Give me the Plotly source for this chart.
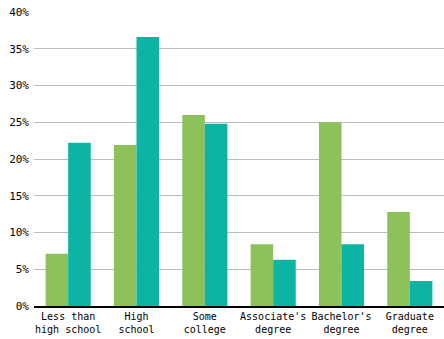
import plotly.graph_objects as go

categories = ["Less than<br>high school", "High<br>school", "Some<br>college",
              "Associate's<br>degree", "Bachelor's<br>degree", "Graduate<br>degree"]
series_a = [7.1, 21.9, 26.0, 8.4, 25.0, 12.8]
series_b = [22.2, 36.6, 24.8, 6.3, 8.4, 3.4]
tick_vals = [0, 5, 10, 15, 20, 25, 30, 35, 40]
tick_text = [f"{v}%" for v in tick_vals]

fig = go.Figure()
fig.add_bar(x=categories, y=series_a, marker_color="#8dc159", marker_line_width=0)
fig.add_bar(x=categories, y=series_b, marker_color="#0bb4a3", marker_line_width=0)

fig.update_layout(
    width=444, height=339,
    margin=dict(l=34, r=0, t=12, b=33),
    paper_bgcolor="white", plot_bgcolor="white",
    barmode="group", bargap=0.34, bargroupgap=0,
    showlegend=False,
    font=dict(family="DejaVu Sans Mono", size=10, color="#000"),
)
fig.update_yaxes(range=[0, 40], tickvals=tick_vals, ticktext=tick_text,
                 showgrid=True, gridcolor="#bbbbbb", gridwidth=1,
                 zeroline=False, ticks="", ticklabelstandoff=4,
                 tickfont=dict(size=11))
fig.update_xaxes(showline=True, linecolor="#000", linewidth=1.5,
                 ticks="", tickangle=0, tickfont=dict(size=10))
fig.write_html("out.html")
